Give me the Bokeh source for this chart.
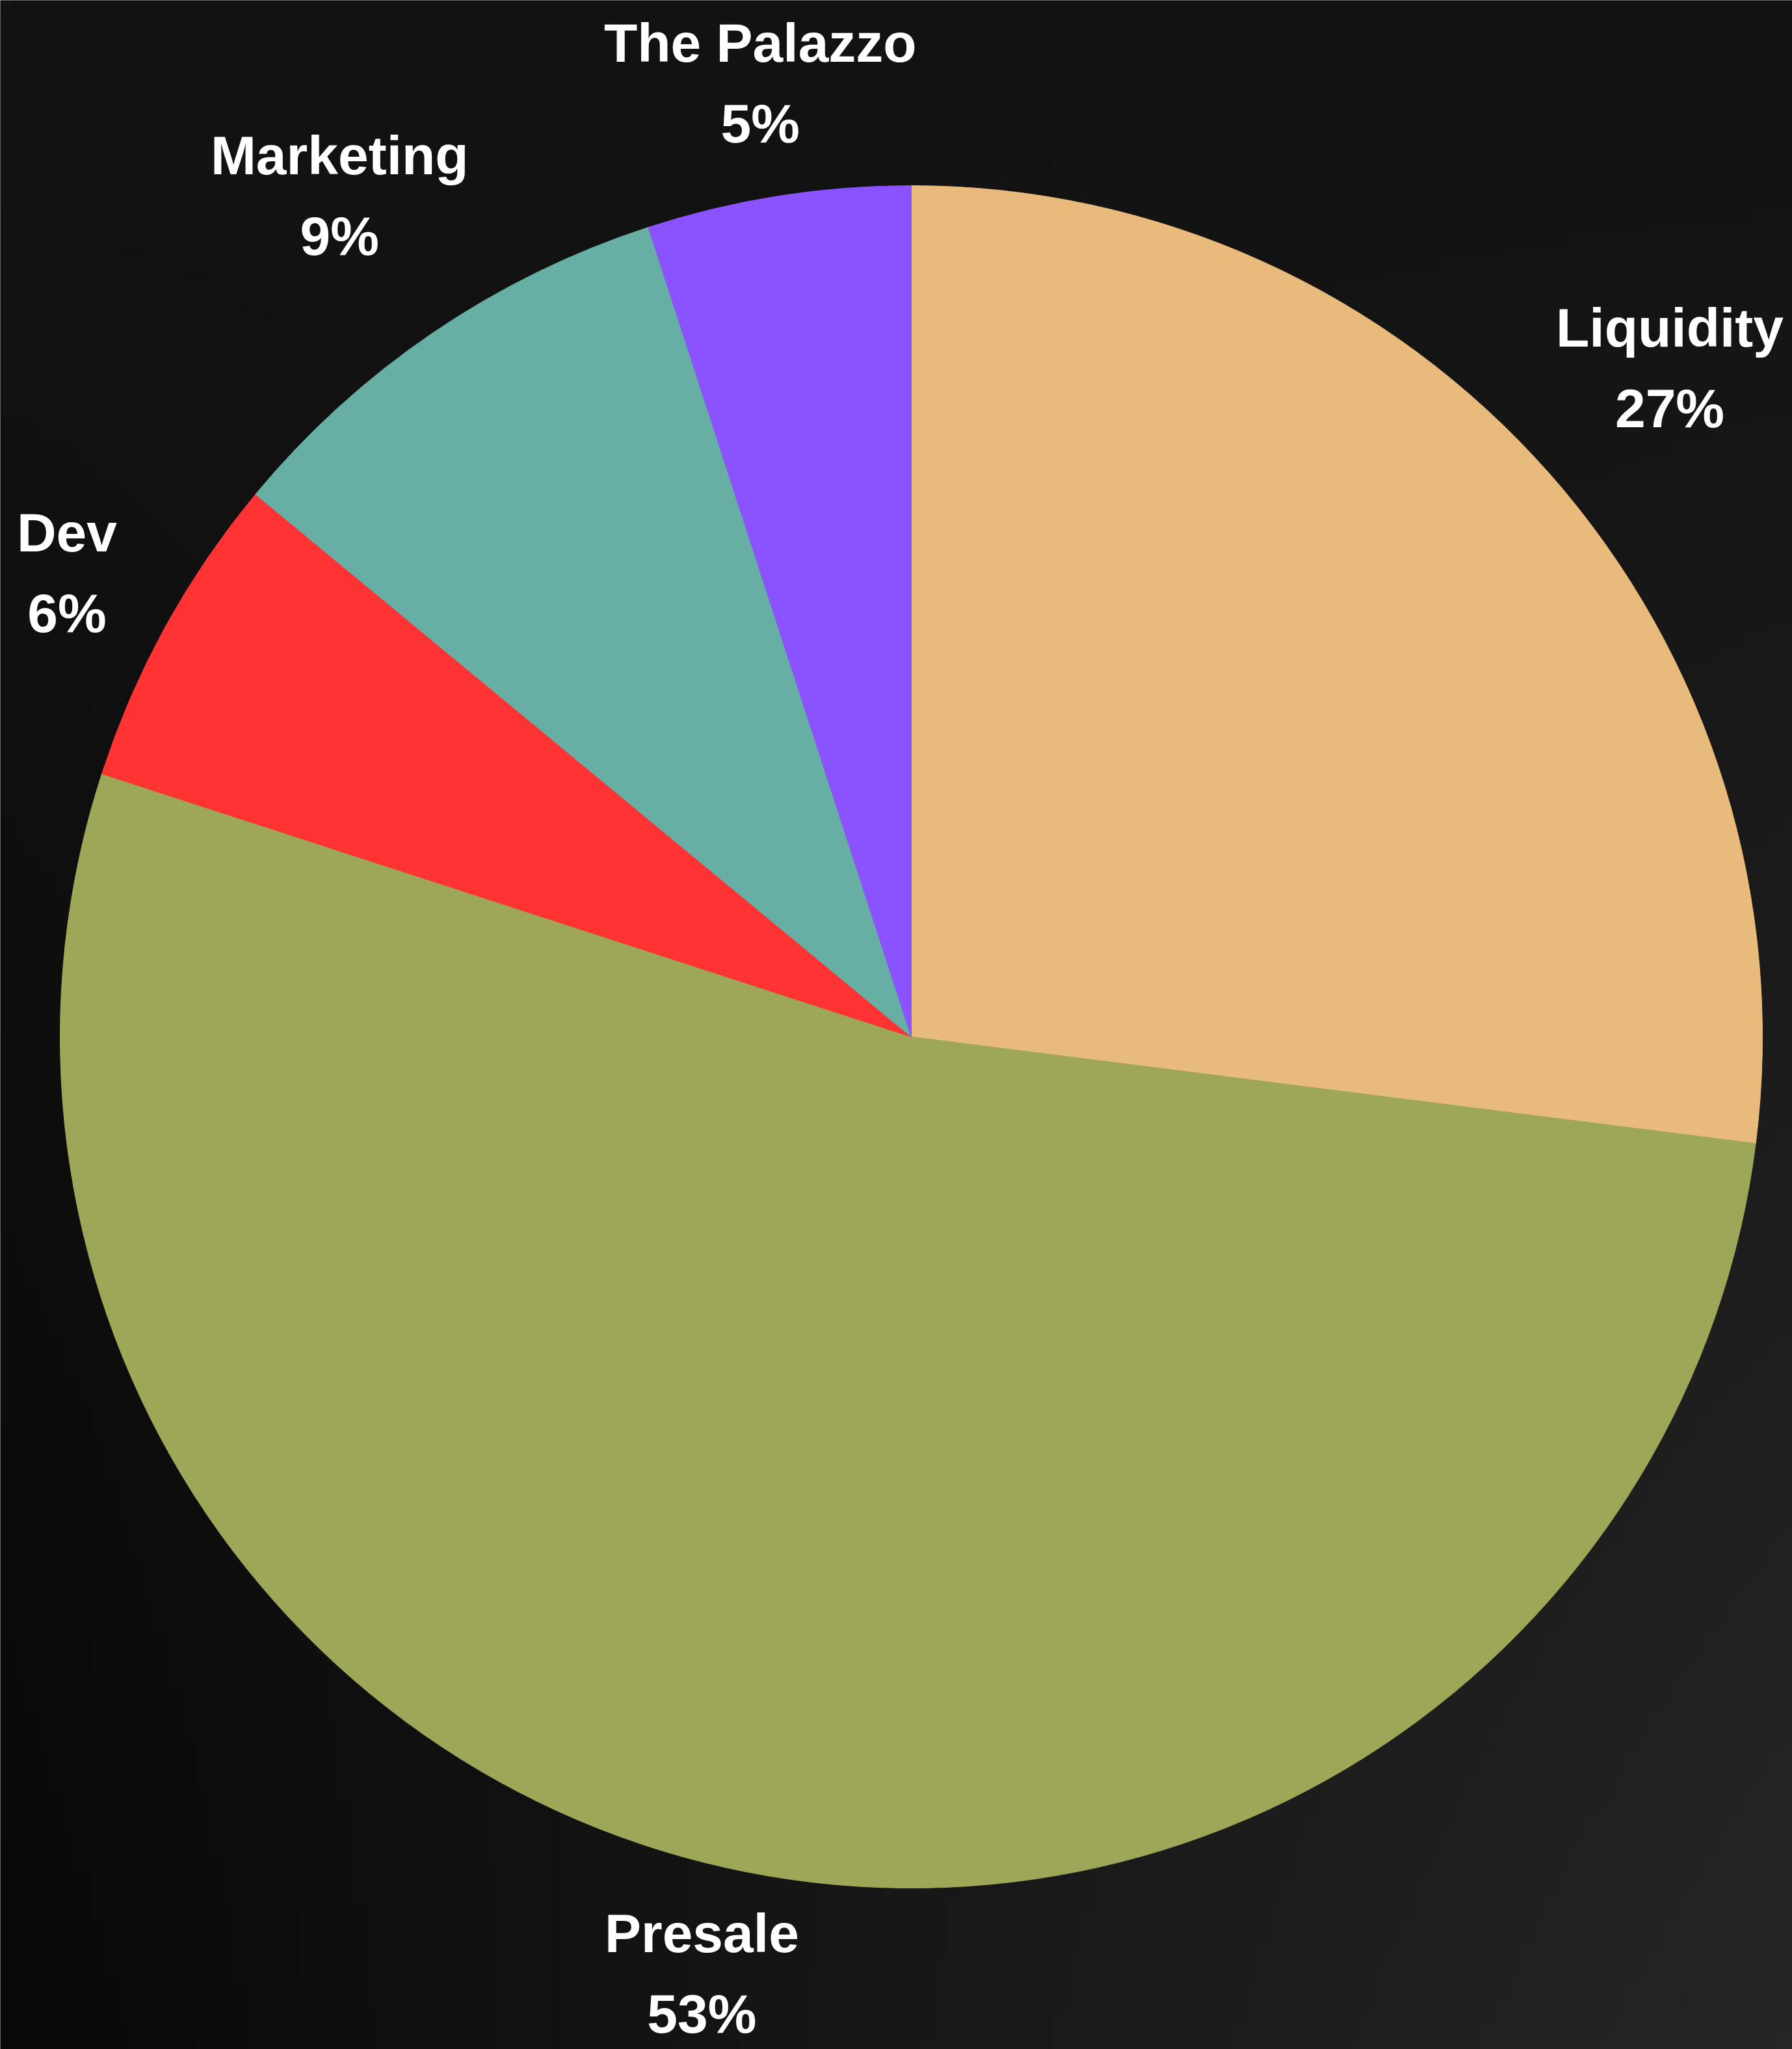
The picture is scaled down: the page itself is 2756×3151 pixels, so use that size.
import math
import numpy as np
from bokeh.plotting import figure
from bokeh.models import Range1d, ColumnDataSource
from bokeh.core.properties import value
from bokeh.embed import file_html
from bokeh.resources import INLINE

# ---- data ----
categories = ["Liquidity", "Presale", "Dev", "Marketing", "The Palazzo"]
shares = [27, 53, 6, 9, 5]
colors = ["#E8BA7B", "#9EA757", "#FF3333", "#67AFA5", "#8B52FF"]
pct_labels = ["27%", "53%", "6%", "9%", "5%"]

# ---- layout ----
W, H = 2756, 3151
CX, CY = 1401, H - 1594   # pie centre (page px, y up)
R = 1309
label_r = [1.188, 1.128, 1.132, 1.195, 1.134]
FONT = "Liberation Sans"
FSIZE = "84px"

p = figure(width=W, height=H, output_backend="svg", toolbar_location=None,
           x_range=Range1d(0, W), y_range=Range1d(0, H),
           min_border=0, outline_line_color=None)
p.axis.visible = False
p.grid.visible = False
p.background_fill_color = "#141414"
p.border_fill_color = "#141414"

# background gradient (dark, lighter toward bottom-right)
nx, ny = 138, 158
u = np.linspace(0, 1, nx)[None, :]
v = np.linspace(0, 1, ny)[:, None]   # v=0 bottom, 1 top
tl, tr, bl, br = 19, 18, 9, 38
g = (tl * (1 - u) * v + tr * u * v + bl * (1 - u) * (1 - v) + br * u * (1 - v))
g = np.clip(g, 0, 255).astype(np.uint32)
img = (np.uint32(255) << 24) | (g << 16) | (g << 8) | g
p.image_rgba(image=[img.astype(np.uint32)], x=0, y=0, dw=W, dh=H)

total = float(sum(shares))
starts, ends, mids = [], [], []
cum = 0.0
for s in shares:
    a0 = math.pi / 2 - 2 * math.pi * cum / total
    cum += s
    a1 = math.pi / 2 - 2 * math.pi * cum / total
    starts.append(a0)
    ends.append(a1)
    mids.append((a0 + a1) / 2)

src = ColumnDataSource(dict(cat=categories, start=starts, end=ends, color=colors))
p.wedge(x=CX, y=CY, radius=R, start_angle="start", end_angle="end",
        direction="clock", fill_color="color", line_color="color", line_width=1,
        source=src)

lx = [CX + R * f * math.cos(m) for f, m in zip(label_r, mids)]
ly = [CY + R * f * math.sin(m) for f, m in zip(label_r, mids)]
lsrc = ColumnDataSource(dict(x=lx, y=ly, name=categories, pct=pct_labels))

p.text(x="x", y="y", text="name", source=lsrc, text_align="center",
       text_baseline="middle", y_offset=-62, text_color="white",
       text_font=value(FONT), text_font_style="bold", text_font_size=FSIZE)
p.text(x="x", y="y", text="pct", source=lsrc, text_align="center",
       text_baseline="middle", y_offset=62, text_color="white",
       text_font=value(FONT), text_font_style="bold", text_font_size=FSIZE)

open("out.html", "w").write(file_html(p, INLINE))
